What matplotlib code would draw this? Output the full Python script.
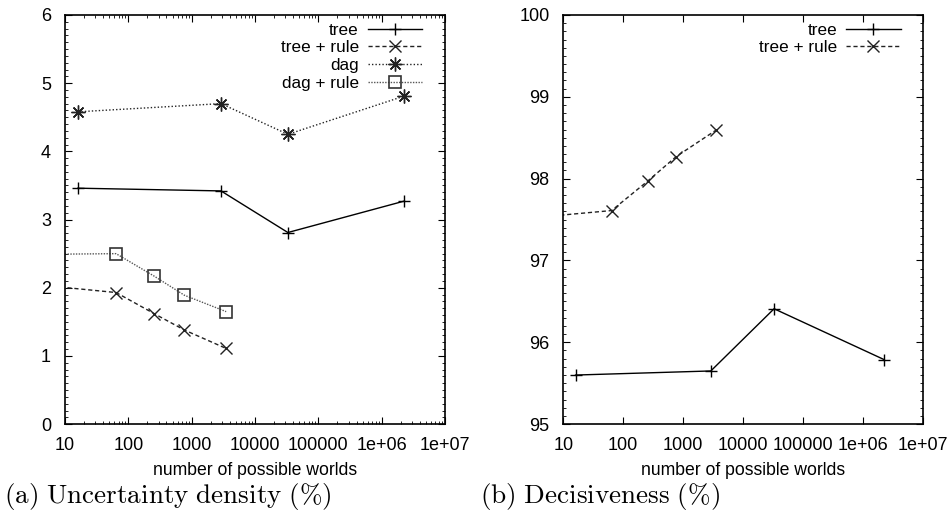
import numpy as np
import matplotlib
matplotlib.use("Agg")
import matplotlib.pyplot as plt
from matplotlib.ticker import LogLocator, MultipleLocator, FixedLocator, FixedFormatter, NullFormatter

plt.rcParams['font.family'] = ['Liberation Sans', 'DejaVu Sans']
plt.rcParams['mathtext.fontset'] = 'cm'

# (a) uncertainty density (%)
tree_x = [16, 2900, 33000, 2.25e6]
tree_unc = [3.46, 3.42, 2.81, 3.27]
dag_unc = [4.58, 4.70, 4.25, 4.81]

rule_x = [4, 64, 256, 768, 3500]
tree_rule_unc = [2.04, 1.93, 1.62, 1.38, 1.11]
dag_rule_unc = [2.49, 2.50, 2.17, 1.89, 1.65]

# (b) decisiveness (%)
tree_dec = [95.60, 95.65, 96.41, 95.79]
tree_rule_dec = [97.53, 97.61, 97.97, 98.27, 98.59]

xtick_vals = [10, 100, 1000, 10000, 100000, 1e6, 1e7]
xtick_labels = ['10', '100', '1000', '10000', '100000', '1e+06', '1e+07']

fig = plt.figure(figsize=(9.49, 5.16), dpi=100)
ax1 = fig.add_axes([0.0685, 0.178, 0.4005, 0.793])
ax2 = fig.add_axes([0.5936, 0.178, 0.3787, 0.793])

star = (8, 2, 0)

ax1.plot(tree_x, tree_unc, color='black', lw=1.0, ls='-', marker='+', ms=9, mew=1.0, label='tree')
ax1.plot(rule_x, tree_rule_unc, color='#222222', lw=1.0, ls=(0, (3, 2)), marker='x', ms=8, mew=1.0, label='tree + rule')
ax1.plot(tree_x, dag_unc, color='#222222', lw=1.0, ls=(0, (1, 1.5)), marker=star, ms=10, mew=1.0, label='dag')
ax1.plot(rule_x, dag_rule_unc, color='#555555', lw=1.0, ls=(0, (1, 1)), marker='s', ms=8, mew=1.2,
         mfc='none', mec='#333333', label='dag + rule')
ax1.set_ylim(0, 6)
ax1.yaxis.set_major_locator(MultipleLocator(1))
ax1.yaxis.set_minor_locator(MultipleLocator(0.1))

ax2.plot(tree_x, tree_dec, color='black', lw=1.0, ls='-', marker='+', ms=9, mew=1.0, label='tree')
ax2.plot(rule_x, tree_rule_dec, color='#222222', lw=1.0, ls=(0, (3, 2)), marker='x', ms=8, mew=1.0, label='tree + rule')
ax2.set_ylim(95, 100)
ax2.yaxis.set_major_locator(MultipleLocator(1))
ax2.yaxis.set_minor_locator(MultipleLocator(0.1))

for ax in (ax1, ax2):
    ax.set_xscale('log')
    ax.set_xlim(10, 1e7)
    ax.xaxis.set_major_locator(FixedLocator(xtick_vals))
    ax.xaxis.set_major_formatter(FixedFormatter(xtick_labels))
    ax.xaxis.set_minor_locator(LogLocator(base=10, subs=np.arange(2, 10)))
    ax.xaxis.set_minor_formatter(NullFormatter())
    ax.tick_params(which='both', direction='in', top=True, right=True, labelsize=13)
    ax.tick_params(axis='x', pad=9)
    ax.tick_params(axis='y', pad=10)
    ax.tick_params(which='major', length=5, width=0.8)
    ax.tick_params(which='minor', length=2.5, width=0.6)
    for s in ax.spines.values():
        s.set_linewidth(1.2)
    ax.set_xlabel('number of possible worlds', fontsize=12.7, labelpad=6)
    ax.legend(loc='upper right', bbox_to_anchor=(0.96, 1.0), frameon=False, markerfirst=False, fontsize=12.3,
              handlelength=3.2, handletextpad=0.5, labelspacing=0.16, borderaxespad=0.05)

fig.text(0.004, 0.025, r'$\mathrm{(a)\ Uncertainty\ density\ (\%)}$', fontsize=19.5, ha='left', va='baseline')
fig.text(0.506, 0.025, r'$\mathrm{(b)\ Decisiveness\ (\%)}$', fontsize=19.5, ha='left', va='baseline')

fig.savefig('out.png', dpi=100)
